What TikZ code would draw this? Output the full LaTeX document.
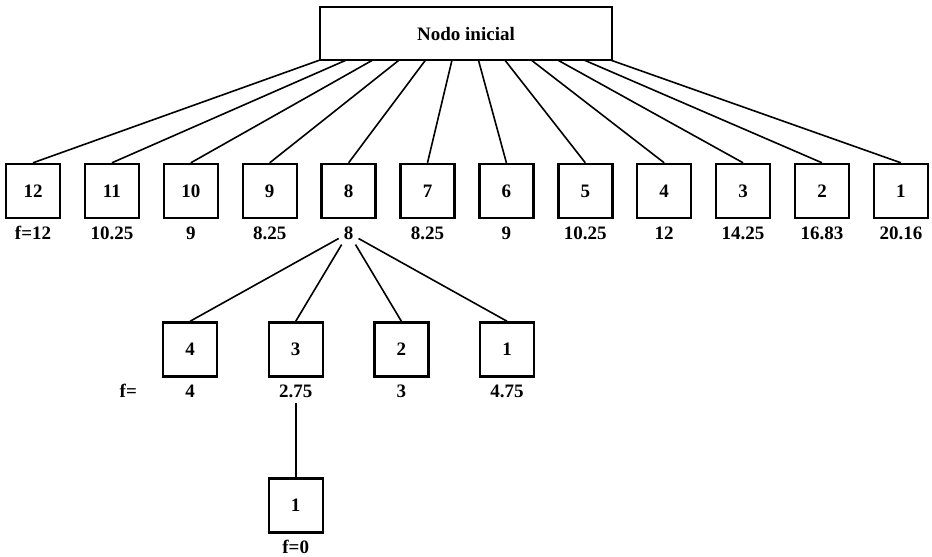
\documentclass[tikz,border=0pt]{standalone}
\usepackage{tikz}
\usepackage{fontspec}
\setmainfont{Liberation Serif}
\usetikzlibrary{positioning}

\tikzset{
  caja/.style={draw, line width=2.4pt, minimum width=54pt, minimum height=54pt, inner sep=0pt, font=\fontsize{19}{22}\selectfont\bfseries},
  inicial/.style={caja, minimum width=292pt, minimum height=53pt},
  valor/.style={inner sep=5pt, font=\fontsize{19}{22}\selectfont\bfseries},
  rama/.style={line width=1.6pt}
}

\begin{document}
\begin{tikzpicture}[x=1pt,y=-1pt]
                \useasboundingbox (0,0) rectangle (932,557);

                \node[inicial] (ini) at (466,33.5) {Nodo inicial};

                % primer nivel
                \foreach \n/\f [count=\i from 0] in {12/f=12,11/10.25,10/9,9/8.25,8/8,7/8.25,6/9,5/10.25,4/12,3/14.25,2/16.83,1/20.16} {
                        \node[caja] (a\n) at (33+78.9*\i,191) {\n};
                        \node[valor, anchor=base] (fa\n) at ([yshift=-20pt]a\n.south) {\f};
                        \coordinate (p\n) at (320+26.4*\i,60);
                        \draw[rama] (p\n) -- (a\n.north);
                    }

                % segundo nivel
                \foreach \n/\f [count=\i from 0] in {4/4,3/2.75,2/3,1/4.75} {
                        \node[caja] (b\n) at (190+105.7*\i,349.5) {\n};
                        \node[valor, anchor=base] (fb\n) at ([yshift=-20pt]b\n.south) {\f};
                        \draw[rama] (fa8) -- (b\n.north);
                    }
                \node[valor, anchor=base east] (fb) at ([xshift=-38pt]fb4.base west) {f=};

                % tercer nivel
                \node[caja] (c1) at (295.7,505.5) {1};
                \node[valor, anchor=base] (fc1) at ([yshift=-20pt]c1.south) {f=0};
                \draw[rama] (fb3) -- (c1.north);

            \end{tikzpicture}
\end{document}
